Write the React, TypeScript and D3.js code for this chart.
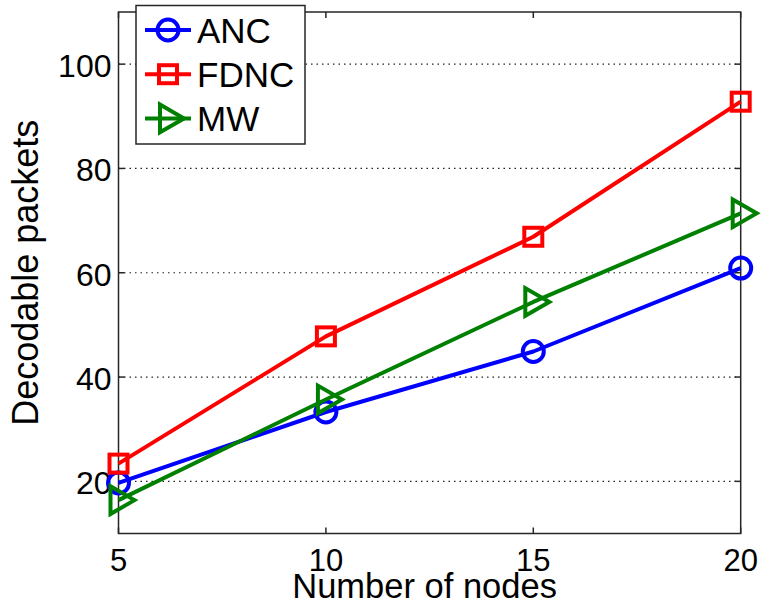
import React from "react";
import * as d3 from "d3";

const nodes = [5, 10, 15, 20];
const ancValues = [19.7, 33.3, 44.9, 60.9];
const fdncValues = [23.4, 47.8, 66.9, 92.8];
const mwValues = [16.4, 35.7, 54.4, 71.4];
const seriesNames = ["ANC", "FDNC", "MW"];
const seriesColors = ["#0000ff", "#ff0000", "#008000"];
const seriesMarkers = ["circle", "square", "triangle"];
const yTicks = [20, 40, 60, 80, 100];
const xTicks = [5, 10, 15, 20];

const W = 763;
const H = 611;
const plot = { left: 118.5, right: 740.7, top: 12, bottom: 533.5 };
const FONT = "'Liberation Sans', Arial, Helvetica, sans-serif";

function Marker({ type, x, y, color }: { type: string; x: number; y: number; color: string }) {
  const sw = 4;
  if (type === "circle") {
    return <circle cx={x} cy={y} r={10.5} fill="none" stroke={color} strokeWidth={sw} />;
  }
  if (type === "square") {
    const s = 18;
    return <rect x={x - s / 2} y={y - s / 2} width={s} height={s} fill="none" stroke={color} strokeWidth={sw} />;
  }
  const r = 16;
  const pts = [
    [x + r, y],
    [x - r / 2, y - (r * Math.sqrt(3)) / 2],
    [x - r / 2, y + (r * Math.sqrt(3)) / 2],
  ];
  return (
    <polygon
      points={pts.map((p) => p.join(",")).join(" ")}
      fill="none"
      stroke={color}
      strokeWidth={sw}
      strokeLinejoin="miter"
    />
  );
}

export default function App() {
  const x = d3.scaleLinear().domain([5, 20]).range([plot.left, plot.right]);
  const y = d3.scaleLinear().domain([10, 110]).range([plot.bottom, plot.top]);
  const allValues = [ancValues, fdncValues, mwValues];
  const line = d3
    .line<[number, number]>()
    .x((d) => x(d[0]))
    .y((d) => y(d[1]));

  const tickLen = 6;
  const axisColor = "#262626";

  return (
    <svg
      width={W}
      height={H}
      style={{ position: "absolute", left: 0, top: 0, background: "#fff" }}
      fontFamily={FONT}
    >
      <rect x={0} y={0} width={W} height={H} fill="#fff" />
      {/* grid */}
      {yTicks.map((t) => (
        <line
          key={"g" + t}
          x1={plot.left}
          x2={plot.right}
          y1={y(t)}
          y2={y(t)}
          stroke="#222"
          strokeWidth={1.2}
          strokeDasharray="1.5,4"
        />
      ))}
      {/* frame */}
      <rect
        x={plot.left}
        y={plot.top}
        width={plot.right - plot.left}
        height={plot.bottom - plot.top}
        fill="none"
        stroke={axisColor}
        strokeWidth={1.5}
      />
      {/* ticks */}
      {yTicks.map((t) => (
        <g key={"yt" + t}>
          <line x1={plot.left} x2={plot.left + tickLen} y1={y(t)} y2={y(t)} stroke={axisColor} strokeWidth={1.5} />
          <line x1={plot.right} x2={plot.right - tickLen} y1={y(t)} y2={y(t)} stroke={axisColor} strokeWidth={1.5} />
          <text x={plot.left - 7} y={y(t) + 13} textAnchor="end" fontSize={32} fill="#000">
            {t}
          </text>
        </g>
      ))}
      {xTicks.map((t) => (
        <g key={"xt" + t}>
          <line x1={x(t)} x2={x(t)} y1={plot.bottom} y2={plot.bottom - tickLen} stroke={axisColor} strokeWidth={1.5} />
          <line x1={x(t)} x2={x(t)} y1={plot.top} y2={plot.top + tickLen} stroke={axisColor} strokeWidth={1.5} />
          <text x={x(t)} y={571} textAnchor="middle" fontSize={31} fill="#000">
            {t}
          </text>
        </g>
      ))}
      {/* axis labels */}
      <text x={(plot.left + plot.right) / 2 - 5} y={598} textAnchor="middle" fontSize={34.5} fill="#000">
        Number of nodes
      </text>
      <text
        transform={`translate(38, ${(plot.top + plot.bottom) / 2}) rotate(-90)`}
        textAnchor="middle"
        fontSize={36}
        fill="#000"
      >
        Decodable packets
      </text>
      {/* series */}
      {allValues.map((vals, i) => {
        const data: [number, number][] = nodes.map((n, j) => [n, vals[j]]);
        return (
          <g key={"s" + i}>
            <path d={line(data) || ""} fill="none" stroke={seriesColors[i]} strokeWidth={4} strokeLinejoin="round" />
            {data.map((d, j) => (
              <Marker key={j} type={seriesMarkers[i]} x={x(d[0])} y={y(d[1])} color={seriesColors[i]} />
            ))}
          </g>
        );
      })}
      {/* legend */}
      <g>
        <rect x={136} y={5.5} width={169} height={138.5} fill="#fff" stroke={axisColor} strokeWidth={1.5} />
        {seriesNames.map((name, i) => {
          const ry = 30 + i * 44.2;
          return (
            <g key={"l" + i}>
              <line x1={145} x2={191} y1={ry} y2={ry} stroke={seriesColors[i]} strokeWidth={4} />
              <Marker type={seriesMarkers[i]} x={168} y={ry} color={seriesColors[i]} />
              <text x={197} y={ry + 13} fontSize={35} fill="#000">
                {name}
              </text>
            </g>
          );
        })}
      </g>
    </svg>
  );
}
